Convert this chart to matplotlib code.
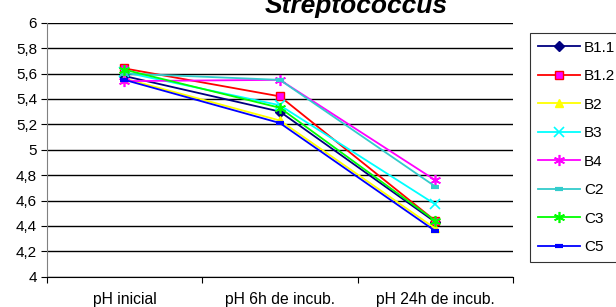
import matplotlib
matplotlib.use("Agg")
import matplotlib.pyplot as plt
import numpy as np

plt.rcParams['font.family'] = ['Liberation Sans', 'DejaVu Sans']

categories = ['pH inicial', 'pH 6h de incub.', 'pH 24h de incub.']
series_names = ['B1.1', 'B1.2', 'B2', 'B3', 'B4', 'C2', 'C3', 'C5']
b11 = [5.58, 5.30, 4.43]
b12 = [5.64, 5.42, 4.44]
b2 = [5.56, 5.23, 4.38]
b3 = [5.61, 5.35, 4.57]
b4 = [5.54, 5.55, 4.76]
c2 = [5.60, 5.55, 4.71]
c3 = [5.63, 5.33, 4.44]
c5 = [5.55, 5.21, 4.36]
values = [b11, b12, b2, b3, b4, c2, c3, c5]

styles = [
    dict(color='#000080', marker='D', ms=5, mfc='#000080', mec='#000080'),
    dict(color='#FF0000', marker='s', ms=6, mfc='#FF00FF', mec='#FF0000'),
    dict(color='#FFFF00', marker='^', ms=6, mfc='#FFFF00', mec='#FFFF00'),
    dict(color='#00FFFF', marker='x', ms=7, mfc='#00FFFF', mec='#00FFFF', mew=1.2),
    dict(color='#FF00FF', marker=(6, 2, 0), ms=8, mfc='#FF00FF', mec='#FF00FF', mew=1.2),
    dict(color='#33CCCC', marker='_', ms=6, mfc='#33CCCC', mec='#33CCCC', mew=3),
    dict(color='#00FF00', marker=(6, 2, 0), ms=8, mfc='#00FF00', mec='#00FF00', mew=1.2),
    dict(color='#0000FF', marker='_', ms=6, mfc='#0000FF', mec='#0000FF', mew=3),
]

fig = plt.figure(figsize=(6.16, 3.07), dpi=100)
ax = fig.add_axes([46.7 / 616, 30.3 / 307, (513 - 46.7) / 616, 254 / 307])

x = np.arange(len(categories))
for name, vals, st in zip(series_names, values, styles):
    ax.plot(x, vals, label=name, lw=1.3, **st)

ax.set_xlim(-0.5, 2.5)
ax.set_ylim(4, 6)
yt = np.arange(4, 6.01, 0.2)
ax.set_yticks(yt)
ax.set_yticklabels([f'{v:.1f}'.replace('.', ',').replace(',0', '') for v in yt])
ax.yaxis.grid(True, color='black', lw=1)
ax.set_axisbelow(True)

ax.set_xticks([-0.5, 0.5, 1.5, 2.5])
ax.set_xticklabels([])
ax.set_xticks(x, minor=True)
ax.set_xticklabels(categories, minor=True, fontsize=11.3)
ax.tick_params(axis='x', which='minor', length=0, pad=11)
ax.tick_params(axis='x', which='major', length=4, direction='out', color='black')
ax.tick_params(axis='y', length=4, direction='out', labelsize=11, color='black', pad=3)

for s in ['top', 'right']:
    ax.spines[s].set_visible(False)
ax.spines['left'].set_color('#808080')
ax.spines['bottom'].set_color('black')

fig.text(356 / 616, 1 - 13 / 307, 'Streptococcus', ha='center', va='baseline',
         fontsize=19, fontweight='bold', fontstyle='italic')

leg = fig.legend(loc='upper left', bbox_to_anchor=(530 / 616, 1 - 33 / 307),
                 fontsize=11, frameon=True, fancybox=False, edgecolor='black',
                 labelspacing=0.95, handlelength=2.75, handletextpad=0.3,
                 borderpad=0.5, borderaxespad=0)
leg.get_frame().set_linewidth(0.8)

fig.savefig('out.png', dpi=100)
